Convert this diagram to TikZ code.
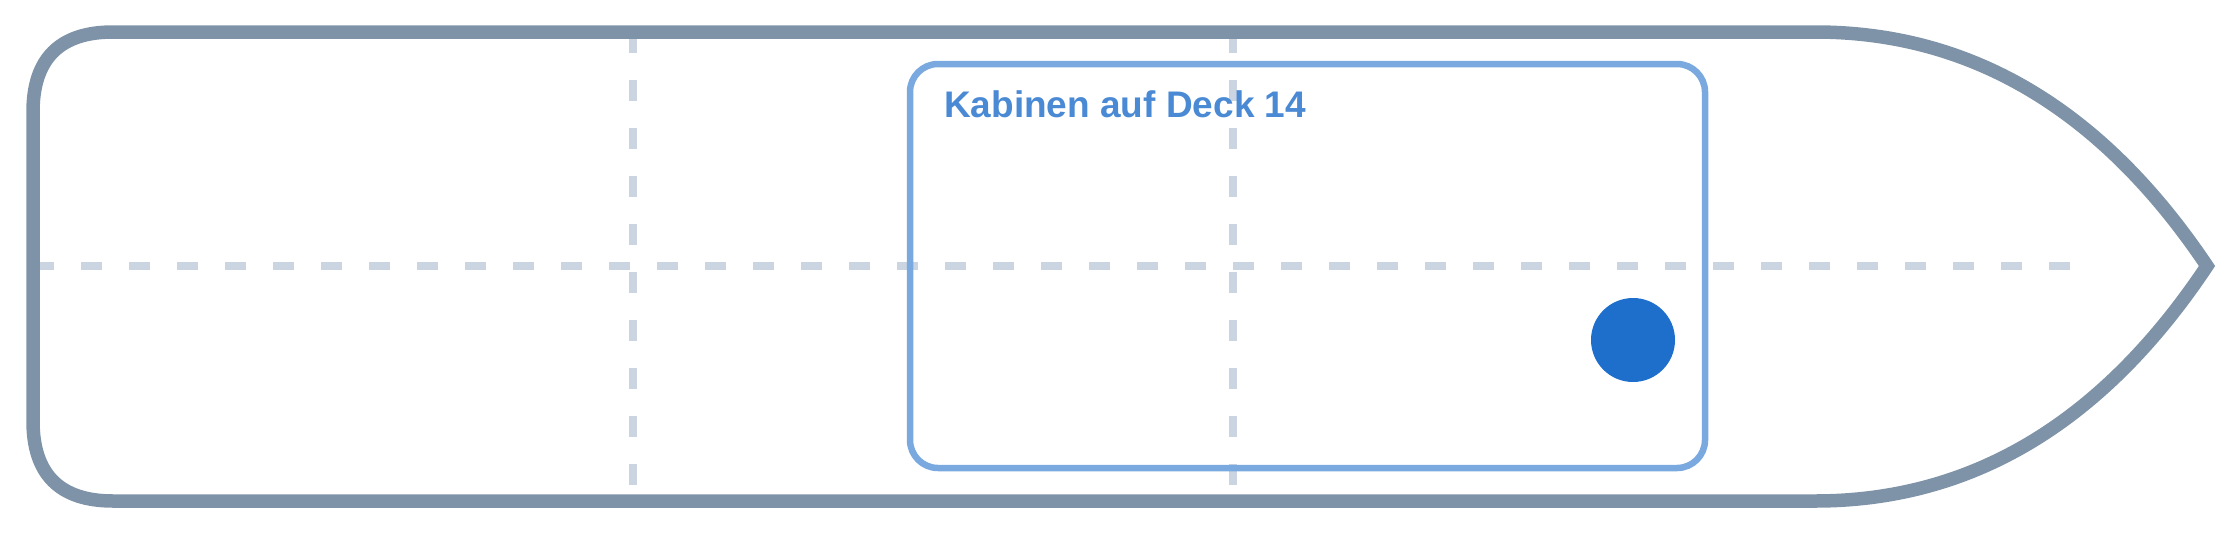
\documentclass[tikz,border=0pt]{standalone}
\usepackage{fontspec}
\setmainfont{Liberation Sans}
\definecolor{hullc}{RGB}{127,147,168}
\definecolor{gridc}{RGB}{203,213,225}
\definecolor{boxc}{RGB}{122,169,224}
\definecolor{titlec}{RGB}{74,137,212}
\definecolor{dotc}{RGB}{30,111,204}
\begin{document}
\begin{tikzpicture}[x=1pt,y=-1pt,
  hull/.style={draw=hullc,line width=13.5pt,line join=miter},
  gridline/.style={draw=gridc,line width=8pt,dash pattern=on 21pt off 27pt},
  cabinbox/.style={draw=boxc,line width=6.5pt,rounded corners=28pt,minimum width=795pt,minimum height=404pt,inner sep=0pt,outer sep=0pt},
  titletext/.style={text=titlec,font=\fontsize{37}{44}\selectfont\bfseries,inner sep=0pt,anchor=base west},
  marker/.style={circle,fill=dotc,minimum size=84pt,inner sep=0pt}]
\useasboundingbox (0,0) rectangle (2240,533);
% grid lines
\coordinate (hl) at (33,266);
\coordinate (hr) at (2070,266);
\coordinate (v1t) at (633,32);
\coordinate (v1b) at (633,500);
\coordinate (v2t) at (1233,32);
\coordinate (v2b) at (1233,500);
\draw[gridline] (hl) -- (hr);
\draw[gridline] (v1t) -- (v1b);
\draw[gridline] (v2t) -- (v2b);
% hull
\draw[hull] (113,32) -- (1815,32)
  .. controls (1971.7,32) and (2102.3,110) .. (2207,266)
  .. controls (2102.3,423) and (1971.7,501) .. (1815,501)
  -- (113,501)
  .. controls (59.7,501) and (33,474.3) .. (33,421)
  -- (33,112)
  .. controls (33,58.7) and (59.7,32) .. (113,32) -- cycle;
% cabin area
\node[cabinbox] (cabins) at (1307.5,266) {};
\node[titletext] (title) at (944,117) {Kabinen auf Deck 14};
\node[marker] (dot) at (1633,340) {};
\end{tikzpicture}
\end{document}
